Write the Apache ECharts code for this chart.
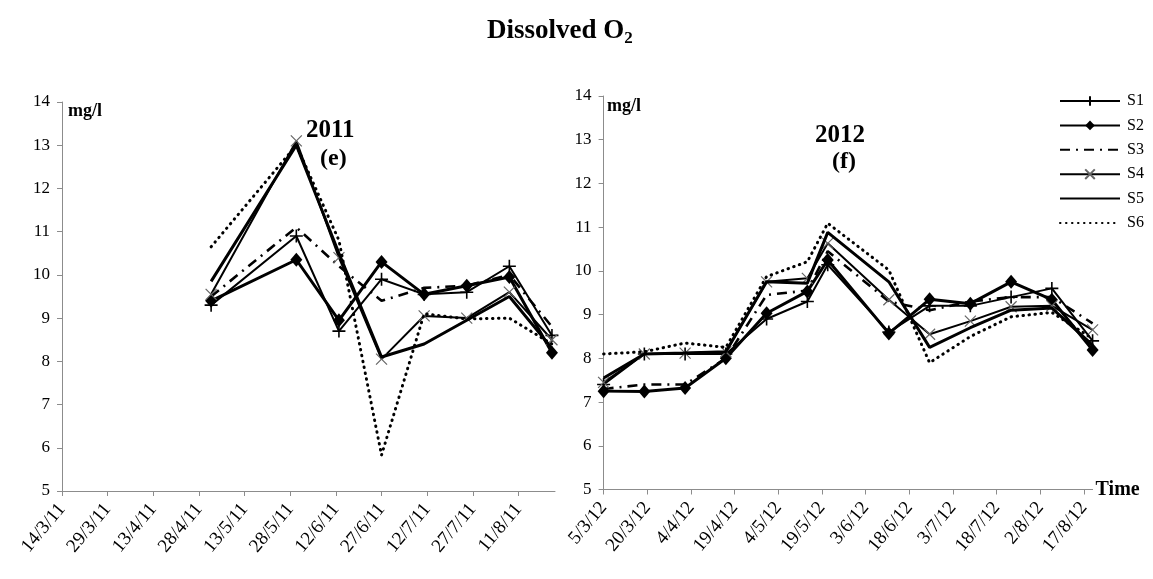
<!DOCTYPE html>
<html><head><meta charset="utf-8">
<script src="https://cdn.jsdelivr.net/npm/echarts@6/dist/echarts.min.js"></script>
<style>html,body{margin:0;padding:0;background:#fff}#c{width:1153px;height:579px}</style>
</head><body><div id="c"></div>
<script>
// ---------- DATA ----------
const seriesNames = ['S1', 'S2', 'S3', 'S4', 'S5', 'S6'];

const axisStart2011 = '2011-03-14';
const axisEnd2011 = '2011-08-23';
const dates2011 = ['2011-05-02', '2011-05-30', '2011-06-13', '2011-06-27', '2011-07-11', '2011-07-25', '2011-08-08', '2011-08-22'];
const s1_2011 = [9.3, 10.9, 8.7, 9.9, 9.55, 9.6, 10.2, 8.6];
const s2_2011 = [9.4, 10.35, 8.95, 10.3, 9.55, 9.75, 9.95, 8.2];
const s3_2011 = [9.5, 11.1, 10.2, 9.4, 9.7, 9.75, 10.0, 8.8];
const s4_2011 = [9.55, 13.1, 10.4, 8.05, 9.05, 9.0, 9.6, 8.5];
const s5_2011 = [9.85, 13.0, 10.5, 8.1, 8.4, 8.95, 9.5, 8.3];
const s6_2011 = [10.65, 13.0, 10.8, 5.83, 9.1, 8.98, 9.0, 8.4];
const ticks2011 = ['14/3/11', '29/3/11', '13/4/11', '28/4/11', '13/5/11', '28/5/11', '12/6/11', '27/6/11', '12/7/11', '27/7/11', '11/8/11'];

const axisStart2012 = '2012-03-05';
const axisEnd2012 = '2012-08-20';
const dates2012 = ['2012-03-05', '2012-03-19', '2012-04-02', '2012-04-16', '2012-04-30', '2012-05-14', '2012-05-21', '2012-06-11', '2012-06-25', '2012-07-09', '2012-07-23', '2012-08-06', '2012-08-20'];
const s1_2012 = [7.4, 8.1, 8.1, 8.1, 8.9, 9.3, 10.14, 8.6, 9.2, 9.2, 9.4, 9.6, 8.4];
const s2_2012 = [7.25, 7.24, 7.32, 8.0, 9.03, 9.53, 10.25, 8.57, 9.35, 9.25, 9.75, 9.34, 8.19];
const s3_2012 = [7.3, 7.4, 7.4, 8.0, 9.45, 9.55, 10.45, 9.3, 9.1, 9.3, 9.4, 9.4, 8.8];
const s4_2012 = [7.45, 8.1, 8.12, 8.15, 9.75, 9.83, 10.63, 9.34, 8.55, 8.85, 9.18, 9.2, 8.65];
const s5_2012 = [7.55, 8.1, 8.12, 8.15, 9.75, 9.72, 10.88, 9.75, 8.25, 8.7, 9.1, 9.15, 8.3];
const s6_2012 = [8.1, 8.15, 8.35, 8.25, 9.87, 10.21, 11.09, 10.02, 7.9, 8.5, 8.95, 9.05, 8.45];
const ticks2012 = ['5/3/12', '20/3/12', '4/4/12', '19/4/12', '4/5/12', '19/5/12', '3/6/12', '18/6/12', '3/7/12', '18/7/12', '2/8/12', '17/8/12'];

const yMin = 5, yMax = 14, yStep = 1;
const tickStepDays = 15;

// ---------- HELPERS ----------
function dayNum(s) { const p = s.split('-').map(Number); return Date.UTC(p[0], p[1] - 1, p[2]) / 86400000; }
function offsets(dates, start) { const s0 = dayNum(start); return dates.map(d => dayNum(d) - s0); }
function pairs(xs, ys) { return xs.map((x, i) => [x, ys[i]]); }
function tickValues(labels) { return labels.map((_, i) => i * tickStepDays); }

const serif = 'Liberation Serif';
const PLUS = 'path://M5,0L5,10M0,5L10,5';
const CROSS = 'path://M0,0L10,10M10,0L0,10';

const styles = [
  { symbol: PLUS, symbolSize: 13, itemStyle: { color: '#000', borderColor: '#000', borderWidth: 1.6 }, lineStyle: { color: '#000', width: 2 } },
  { symbol: 'diamond', symbolSize: [12, 14], itemStyle: { color: '#000' }, lineStyle: { color: '#000', width: 3 } },
  { symbol: 'circle', symbolSize: 1, showSymbol: false, itemStyle: { color: '#000', opacity: 0 }, lineStyle: { color: '#000', width: 2.6, type: [10, 6, 2, 6] } },
  { symbol: CROSS, symbolSize: 11, itemStyle: { color: '#666', borderColor: '#666', borderWidth: 1.2 }, lineStyle: { color: '#000', width: 2 } },
  { symbol: 'circle', symbolSize: 1, showSymbol: false, itemStyle: { color: '#000', opacity: 0 }, lineStyle: { color: '#000', width: 3 } },
  { symbol: 'circle', symbolSize: 1, showSymbol: false, itemStyle: { color: '#000', opacity: 0 }, lineStyle: { color: '#000', width: 3, type: [0.5, 5.5], cap: 'round' } }
];

const data2011 = [s1_2011, s2_2011, s3_2011, s4_2011, s5_2011, s6_2011];
const data2012 = [s1_2012, s2_2012, s3_2012, s4_2012, s5_2012, s6_2012];
const x2011 = offsets(dates2011, axisStart2011);
const x2012 = offsets(dates2012, axisStart2012);

const series = [];
[[data2011, x2011, 0], [data2012, x2012, 1]].forEach(([set, xs, idx]) => {
  set.forEach((vals, i) => {
    series.push(Object.assign({
      name: seriesNames[i], type: 'line', xAxisIndex: idx, yAxisIndex: idx, color: '#000',
      data: pairs(xs, vals), showSymbol: true, animation: false, z: 2 + i
    }, JSON.parse(JSON.stringify(styles[i]))));
  });
});

function xAxis(gridIndex, start, end, labels, withName) {
  const tv = tickValues(labels);
  const ax = {
    type: 'value', gridIndex, min: 0, max: dayNum(end) - dayNum(start), interval: tickStepDays,
    splitLine: { show: false },
    axisLine: { lineStyle: { color: '#8c8c8c', width: 1 } },
    axisTick: { show: true, length: 5, lineStyle: { color: '#8c8c8c' }, customValues: tv },
    axisLabel: {
      customValues: tv, rotate: 50, margin: 15, color: '#000', fontFamily: serif, fontSize: 19,
      formatter: v => labels[Math.round(v / tickStepDays)] || ''
    }
  };
  if (withName) {
    ax.name = 'Time'; ax.nameLocation = 'end'; ax.nameGap = 3;
    ax.nameTextStyle = { fontFamily: serif, fontSize: 20, fontWeight: 'bold', color: '#000', verticalAlign: 'middle' };
  }
  return ax;
}
function yAxis(gridIndex) {
  return {
    type: 'value', gridIndex, min: yMin, max: yMax, interval: yStep,
    splitLine: { show: false },
    axisLine: { show: true, lineStyle: { color: '#8c8c8c', width: 1 } },
    axisTick: { show: true, length: 5, lineStyle: { color: '#8c8c8c' } },
    axisLabel: { color: '#000', fontFamily: serif, fontSize: 17, margin: 12 }
  };
}

const txt = (x, y, s, size, align) => ({
  type: 'text', left: x, top: y, silent: true,
  style: { text: s, fontFamily: serif, fontSize: size, fontWeight: 'bold', fill: '#000', textAlign: align || 'left' }
});

const chart = echarts.init(document.getElementById('c'), null, { renderer: 'canvas' });
chart.setOption({
  animation: false,
  backgroundColor: '#fff',
  title: {
    text: '{a|Dissolved O}{b|2}', left: 482, top: 10,
    textStyle: { rich: {
      a: { fontFamily: serif, fontSize: 27, fontWeight: 'bold', color: '#000', lineHeight: 32 },
      b: { fontFamily: serif, fontSize: 17, fontWeight: 'bold', color: '#000', lineHeight: 16, verticalAlign: 'bottom' }
    } }
  },
  legend: {
    orient: 'vertical', left: 1054, top: 88, itemWidth: 60, itemHeight: 12, itemGap: 8.4,
    data: seriesNames,
    textStyle: { fontFamily: serif, fontSize: 16, color: '#000', padding: [0, 0, 0, 2] }
  },
  grid: [
    { left: 62, top: 102, width: 493, height: 389 },
    { left: 603.6, top: 96, width: 489, height: 393.5 }
  ],
  xAxis: [xAxis(0, axisStart2011, axisEnd2011, ticks2011, false), xAxis(1, axisStart2012, axisEnd2012, ticks2012, true)],
  yAxis: [yAxis(0), yAxis(1)],
  graphic: [
    txt(68, 102, 'mg/l', 18),
    txt(607, 97, 'mg/l', 18),
    txt(306, 118, '2011', 25),
    txt(320, 147, '(e)', 24),
    txt(815, 123, '2012', 25),
    txt(832, 150, '(f)', 24)
  ],
  series
});
</script>
</body></html>
